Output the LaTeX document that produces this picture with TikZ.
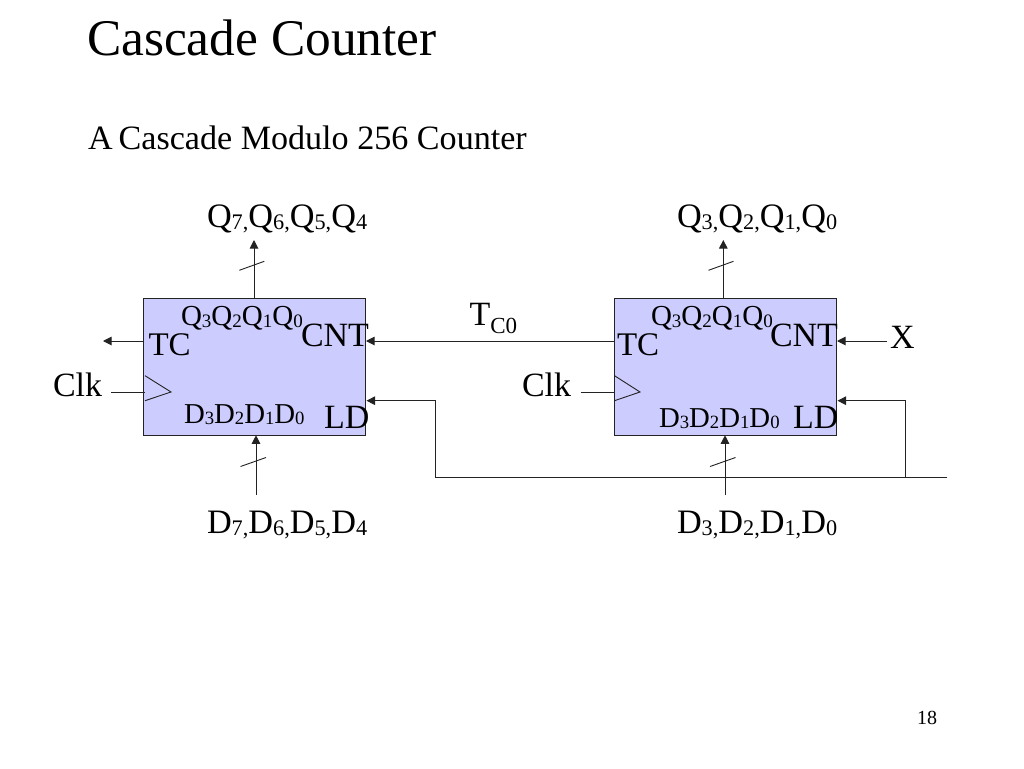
\documentclass[tikz,border=0pt]{standalone}
\usepackage{fontspec}
\setmainfont{Liberation Serif}
\usetikzlibrary{arrows.meta}
\newcommand{\fsz}[1]{\fontsize{#1}{#1}\selectfont}
\newcommand{\sbs}[1]{\raisebox{-2pt}{\fsz{22.25}#1}}
\newcommand{\sbi}[1]{\raisebox{-1.5pt}{\fsz{19}#1}}
\newcommand{\sbd}[1]{\raisebox{-1.5pt}{\fsz{18.7}#1}}
\definecolor{boxfill}{RGB}{204,204,255}
\definecolor{linec}{RGB}{35,35,35}
\tikzset{
  lab/.style={inner sep=0pt,outer sep=0pt,anchor=base west,text=black},
  big/.style={lab,font=\fsz{34}},
  biglab/.style={lab,font=\fsz{34.25}},
  inner/.style={lab,font=\fsz{29}},
  innerd/.style={lab,font=\fsz{28.8}},
  counter/.style={draw=linec,line width=1pt,fill=boxfill,minimum width=222pt,minimum height=137pt,inner sep=0pt,outer sep=0pt,anchor=north west},
  wire/.style={draw=linec,line width=1pt},
  arr/.style={wire,-{Triangle[length=8.5pt,width=8.5pt]}},
  thin wire/.style={draw=linec,line width=0.9pt}
}
\begin{document}
\begin{tikzpicture}[x=1pt,y=-1pt]
\useasboundingbox (0,0) rectangle (1024,768);
\fill[white] (0,0) rectangle (1024,768);
\node[lab,font=\fsz{51.4}] (title) at (87,56) {Cascade Counter};
\node[lab,font=\fsz{34.1}] (sub) at (88,149.5) {A\hspace{-2.5pt} Cascade Modulo 256 Counter};

% boxes
\node[counter] (b1) at (143.3,298.3) {};
\node[counter] (b2) at (614.3,298.3) {};

% outer labels
\node[biglab] (q1) at (207,227.5) {Q\sbs{7,}Q\sbs{6,}Q\sbs{5,}Q\sbs{4}};
\node[biglab] (q2) at (677,227.5) {Q\sbs{3,}Q\sbs{2,}Q\sbs{1,}Q\sbs{0}};
\node[biglab] (d1) at (207,533) {D\sbs{7,}D\sbs{6,}D\sbs{5,}D\sbs{4}};
\node[biglab] (d2) at (677,533) {D\sbs{3,}D\sbs{2,}D\sbs{1,}D\sbs{0}};

% inner labels
\node[inner] (iq1) at (181,325.5) {Q\sbi{3}Q\sbi{2}Q\sbi{1}Q\sbi{0}};
\node[inner] (iq2) at (651,325.5) {Q\sbi{3}Q\sbi{2}Q\sbi{1}Q\sbi{0}};
\node[innerd] (id1) at (184,423) {D\sbd{3}D\sbd{2}D\sbd{1}D\sbd{0}};
\node[innerd] (id2) at (659,427) {D\sbd{3}D\sbd{2}D\sbd{1}D\sbd{0}};
\node[lab,font=\fsz{33}] (tc1) at (148.5,355) {TC};
\node[lab,font=\fsz{33}] (tc2) at (617,355) {TC};
\node[big] (cnt1) at (301,346.5) {CNT};
\node[big] (cnt2) at (770,346.5) {CNT};
\node[big] (ld1) at (324,428) {LD};
\node[big] (ld2) at (793,428) {LD};
\node[big] (clk1) at (53,396) {Clk};
\node[big] (clk2) at (522,396) {Clk};
\node[big] (x) at (890,348) {X};
\node[big] (t) at (469.5,325.5) {T\raisebox{-8pt}{\fsz{23}C0}};
\node[lab,font=\fsz{20}] (page) at (917,724) {18};

% free ends and ports
\coordinate (q1end) at (254,240);
\coordinate (q2end) at (723.3,240);
\coordinate (q1port) at (254,298.3);
\coordinate (q2port) at (723.3,298.3);
\coordinate (d1start) at (256,494.5);
\coordinate (d2start) at (725,494.5);
\coordinate (d1port) at (256,435.3);
\coordinate (d2port) at (725,435.3);
\coordinate (tc1end) at (103,341);
\coordinate (tc1port) at (143.3,341);
\coordinate (tc2port) at (614.3,341);
\coordinate (cnt1port) at (366,341);
\coordinate (cnt2port) at (837,341);
\coordinate (xstart) at (887,341);
\coordinate (ld1port) at (366.5,400.7);
\coordinate (ld2port) at (837.5,400.7);
\coordinate (ld1c) at (435.5,400.7);
\coordinate (ld1b) at (435.5,477.3);
\coordinate (ldend) at (947,477.3);
\coordinate (ld2c) at (905,400.7);
\coordinate (ld2b) at (905,477.3);
\coordinate (ck1s) at (111,392.3);
\coordinate (ck1p) at (145,392.3);
\coordinate (ck2s) at (580.7,392.3);
\coordinate (ck2p) at (614.5,392.3);

% connectors
\draw[arr] (q1port) -- (q1end);
\draw[arr] (q2port) -- (q2end);
\draw[arr] (d1start) -- (d1port);
\draw[arr] (d2start) -- (d2port);
\draw[arr] (tc1port) -- (tc1end);
\draw[arr] (tc2port) -- (cnt1port);
\draw[arr] (xstart) -- (cnt2port);
\draw[arr] (ldend) -- (ld1b) -- (ld1c) -- (ld1port);
\draw[arr] (ld2b) -- (ld2c) -- (ld2port);
\draw[wire] (ck1s) -- (ck1p);
\draw[wire] (ck2s) -- (ck2p);

% bus ticks
\draw[thin wire] (239.3,270.3) -- (264.3,261.3);
\draw[thin wire] (708.5,270.3) -- (733.5,261.3);
\draw[thin wire] (240.5,466.5) -- (266,457.5);
\draw[thin wire] (710,466.5) -- (735.5,457.5);

% clock triangles
\draw[thin wire] (145,375.7) -- (171,392) -- (145,400.7);
\draw[thin wire] (614.5,375.7) -- (640,392) -- (614.5,400.7);
\end{tikzpicture}
\end{document}
